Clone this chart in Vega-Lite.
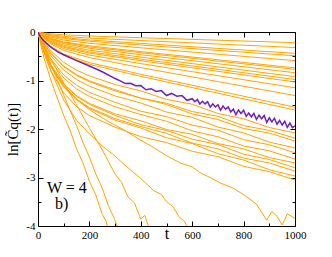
{
  "$schema": "https://vega.github.io/schema/vega-lite/v6.json",
  "autosize": "none",
  "width": 257,
  "height": 194,
  "padding": {"left": 38, "top": 32, "right": 37, "bottom": 31},
  "background": "white",
  "config": {
    "view": {"stroke": null},
    "axis": {"grid": false, "labelFont": "Liberation Serif", "labelFontSize": 11, "labelColor": "black", "titleFont": "Liberation Serif", "titleFontWeight": "normal", "titleColor": "black", "domainColor": "black", "tickColor": "black", "labelFlush": false, "labelOverlap": false}
  },
  "datasets": {
    "up": [
      {"s":"u1","t":0,"v":0},{"s":"u1","t":10,"v":-0.009},{"s":"u1","t":25,"v":-0.021},{"s":"u1","t":50,"v":-0.037},{"s":"u1","t":100,"v":-0.058},{"s":"u1","t":200,"v":-0.082},{"s":"u1","t":400,"v":-0.118},{"s":"u1","t":700,"v":-0.169},{"s":"u1","t":1000,"v":-0.22},
      {"s":"u2","t":0,"v":0},{"s":"u2","t":10,"v":-0.015},{"s":"u2","t":25,"v":-0.033},{"s":"u2","t":50,"v":-0.057},{"s":"u2","t":100,"v":-0.089},{"s":"u2","t":200,"v":-0.125},{"s":"u2","t":400,"v":-0.176},{"s":"u2","t":700,"v":-0.248},{"s":"u2","t":1000,"v":-0.32},
      {"s":"u3","t":0,"v":0},{"s":"u3","t":10,"v":-0.019},{"s":"u3","t":25,"v":-0.043},{"s":"u3","t":50,"v":-0.074},{"s":"u3","t":100,"v":-0.115},{"s":"u3","t":200,"v":-0.164},{"s":"u3","t":400,"v":-0.236},{"s":"u3","t":700,"v":-0.338},{"s":"u3","t":1000,"v":-0.44},
      {"s":"u4","t":0,"v":0},{"s":"u4","t":10,"v":-0.022},{"s":"u4","t":25,"v":-0.05},{"s":"u4","t":50,"v":-0.086},{"s":"u4","t":100,"v":-0.134},{"s":"u4","t":200,"v":-0.19},{"s":"u4","t":400,"v":-0.268},{"s":"u4","t":700,"v":-0.379},{"s":"u4","t":1000,"v":-0.49},
      {"s":"u5","t":0,"v":0},{"s":"u5","t":10,"v":-0.028},{"s":"u5","t":25,"v":-0.062},{"s":"u5","t":50,"v":-0.107},{"s":"u5","t":100,"v":-0.166},{"s":"u5","t":200,"v":-0.233},{"s":"u5","t":400,"v":-0.326},{"s":"u5","t":700,"v":-0.458},{"s":"u5","t":1000,"v":-0.59},
      {"s":"u6","t":0,"v":0},{"s":"u6","t":10,"v":-0.033},{"s":"u6","t":25,"v":-0.075},{"s":"u6","t":50,"v":-0.13},{"s":"u6","t":100,"v":-0.202},{"s":"u6","t":200,"v":-0.286},{"s":"u6","t":400,"v":-0.404},{"s":"u6","t":700,"v":-0.572},{"s":"u6","t":1000,"v":-0.74},
      {"s":"u7","t":0,"v":0},{"s":"u7","t":10,"v":-0.037},{"s":"u7","t":25,"v":-0.083},{"s":"u7","t":50,"v":-0.142},{"s":"u7","t":100,"v":-0.219},{"s":"u7","t":200,"v":-0.307},{"s":"u7","t":400,"v":-0.428},{"s":"u7","t":700,"v":-0.599},{"s":"u7","t":1000,"v":-0.77},
      {"s":"u8","t":0,"v":0},{"s":"u8","t":10,"v":-0.04},{"s":"u8","t":25,"v":-0.091},{"s":"u8","t":50,"v":-0.155},{"s":"u8","t":100,"v":-0.24},{"s":"u8","t":200,"v":-0.336},{"s":"u8","t":400,"v":-0.468},{"s":"u8","t":700,"v":-0.654},{"s":"u8","t":1000,"v":-0.84},
      {"s":"u9","t":0,"v":0},{"s":"u9","t":10,"v":-0.045},{"s":"u9","t":25,"v":-0.102},{"s":"u9","t":50,"v":-0.175},{"s":"u9","t":100,"v":-0.27},{"s":"u9","t":200,"v":-0.375},{"s":"u9","t":400,"v":-0.518},{"s":"u9","t":700,"v":-0.719},{"s":"u9","t":1000,"v":-0.92},
      {"s":"u10","t":0,"v":0},{"s":"u10","t":10,"v":-0.05},{"s":"u10","t":25,"v":-0.113},{"s":"u10","t":50,"v":-0.193},{"s":"u10","t":100,"v":-0.297},{"s":"u10","t":200,"v":-0.41},{"s":"u10","t":400,"v":-0.56},{"s":"u10","t":700,"v":-0.77},{"s":"u10","t":1000,"v":-0.98},
      {"s":"u11","t":0,"v":0},{"s":"u11","t":10,"v":-0.054},{"s":"u11","t":25,"v":-0.121},{"s":"u11","t":50,"v":-0.206},{"s":"u11","t":100,"v":-0.316},{"s":"u11","t":200,"v":-0.435},{"s":"u11","t":400,"v":-0.592},{"s":"u11","t":700,"v":-0.811},{"s":"u11","t":1000,"v":-1.03},
      {"s":"u12","t":0,"v":0},{"s":"u12","t":10,"v":-0.058},{"s":"u12","t":25,"v":-0.13},{"s":"u12","t":50,"v":-0.222},{"s":"u12","t":100,"v":-0.343},{"s":"u12","t":200,"v":-0.475},{"s":"u12","t":400,"v":-0.652},{"s":"u12","t":700,"v":-0.901},{"s":"u12","t":1000,"v":-1.15},
      {"s":"u13","t":0,"v":0},{"s":"u13","t":10,"v":-0.064},{"s":"u13","t":25,"v":-0.143},{"s":"u13","t":50,"v":-0.246},{"s":"u13","t":100,"v":-0.38},{"s":"u13","t":200,"v":-0.529},{"s":"u13","t":400,"v":-0.734},{"s":"u13","t":700,"v":-1.022},{"s":"u13","t":1000,"v":-1.31},
      {"s":"u14","t":0,"v":0},{"s":"u14","t":10,"v":-0.076},{"s":"u14","t":25,"v":-0.172},{"s":"u14","t":50,"v":-0.294},{"s":"u14","t":100,"v":-0.454},{"s":"u14","t":200,"v":-0.631},{"s":"u14","t":400,"v":-0.872},{"s":"u14","t":700,"v":-1.211},{"s":"u14","t":1000,"v":-1.55},
      {"s":"u15","t":0,"v":0},{"s":"u15","t":10,"v":-0.081},{"s":"u15","t":25,"v":-0.183},{"s":"u15","t":50,"v":-0.312},{"s":"u15","t":100,"v":-0.481},{"s":"u15","t":200,"v":-0.666},{"s":"u15","t":400,"v":-0.914},{"s":"u15","t":700,"v":-1.262},{"s":"u15","t":1000,"v":-1.61}
    ],
    "cl": [
      {"s":"c1","t":0,"v":0},{"s":"c1","t":10,"v":-0.094},{"s":"c1","t":25,"v":-0.217},{"s":"c1","t":50,"v":-0.386},{"s":"c1","t":100,"v":-0.625},{"s":"c1","t":150,"v":-0.786},{"s":"c1","t":200,"v":-0.904},{"s":"c1","t":300,"v":-1.084},{"s":"c1","t":400,"v":-1.215},{"s":"c1","t":500,"v":-1.39},{"s":"c1","t":600,"v":-1.49},{"s":"c1","t":700,"v":-1.68},{"s":"c1","t":800,"v":-1.79},{"s":"c1","t":900,"v":-1.97},{"s":"c1","t":1000,"v":-2.08},
      {"s":"c2","t":0,"v":0},{"s":"c2","t":10,"v":-0.107},{"s":"c2","t":25,"v":-0.247},{"s":"c2","t":50,"v":-0.437},{"s":"c2","t":100,"v":-0.703},{"s":"c2","t":150,"v":-0.879},{"s":"c2","t":200,"v":-1.005},{"s":"c2","t":300,"v":-1.191},{"s":"c2","t":400,"v":-1.364},{"s":"c2","t":500,"v":-1.47},{"s":"c2","t":600,"v":-1.64},{"s":"c2","t":700,"v":-1.74},{"s":"c2","t":800,"v":-1.93},{"s":"c2","t":900,"v":-2.03},{"s":"c2","t":1000,"v":-2.19},
      {"s":"c3","t":0,"v":0},{"s":"c3","t":10,"v":-0.109},{"s":"c3","t":25,"v":-0.25},{"s":"c3","t":50,"v":-0.445},{"s":"c3","t":100,"v":-0.715},{"s":"c3","t":150,"v":-0.896},{"s":"c3","t":200,"v":-1.024},{"s":"c3","t":300,"v":-1.216},{"s":"c3","t":400,"v":-1.364},{"s":"c3","t":500,"v":-1.495},{"s":"c3","t":600,"v":-1.69},{"s":"c3","t":700,"v":-1.805},{"s":"c3","t":800,"v":-1.99},{"s":"c3","t":900,"v":-2.085},{"s":"c3","t":1000,"v":-2.25},
      {"s":"c4","t":0,"v":0},{"s":"c4","t":10,"v":-0.12},{"s":"c4","t":25,"v":-0.276},{"s":"c4","t":50,"v":-0.489},{"s":"c4","t":100,"v":-0.785},{"s":"c4","t":150,"v":-0.979},{"s":"c4","t":200,"v":-1.117},{"s":"c4","t":300,"v":-1.319},{"s":"c4","t":400,"v":-1.464},{"s":"c4","t":500,"v":-1.65},{"s":"c4","t":600,"v":-1.76},{"s":"c4","t":700,"v":-1.96},{"s":"c4","t":800,"v":-2.08},{"s":"c4","t":900,"v":-2.27},{"s":"c4","t":1000,"v":-2.39},
      {"s":"c5","t":0,"v":0},{"s":"c5","t":10,"v":-0.137},{"s":"c5","t":25,"v":-0.315},{"s":"c5","t":50,"v":-0.556},{"s":"c5","t":100,"v":-0.887},{"s":"c5","t":150,"v":-1.098},{"s":"c5","t":200,"v":-1.245},{"s":"c5","t":300,"v":-1.45},{"s":"c5","t":400,"v":-1.633},{"s":"c5","t":500,"v":-1.745},{"s":"c5","t":600,"v":-1.92},{"s":"c5","t":700,"v":-2.025},{"s":"c5","t":800,"v":-2.22},{"s":"c5","t":900,"v":-2.325},{"s":"c5","t":1000,"v":-2.49},
      {"s":"c6","t":0,"v":0},{"s":"c6","t":10,"v":-0.147},{"s":"c6","t":25,"v":-0.338},{"s":"c6","t":50,"v":-0.596},{"s":"c6","t":100,"v":-0.949},{"s":"c6","t":150,"v":-1.174},{"s":"c6","t":200,"v":-1.328},{"s":"c6","t":300,"v":-1.543},{"s":"c6","t":400,"v":-1.702},{"s":"c6","t":500,"v":-1.84},{"s":"c6","t":600,"v":-2.04},{"s":"c6","t":700,"v":-2.16},{"s":"c6","t":800,"v":-2.35},{"s":"c6","t":900,"v":-2.45},{"s":"c6","t":1000,"v":-2.62},
      {"s":"c7","t":0,"v":0},{"s":"c7","t":10,"v":-0.167},{"s":"c7","t":25,"v":-0.383},{"s":"c7","t":50,"v":-0.675},{"s":"c7","t":100,"v":-1.067},{"s":"c7","t":150,"v":-1.311},{"s":"c7","t":200,"v":-1.473},{"s":"c7","t":300,"v":-1.689},{"s":"c7","t":400,"v":-1.831},{"s":"c7","t":500,"v":-2.01},{"s":"c7","t":600,"v":-2.11},{"s":"c7","t":700,"v":-2.3},{"s":"c7","t":800,"v":-2.41},{"s":"c7","t":900,"v":-2.59},{"s":"c7","t":1000,"v":-2.7},
      {"s":"c8","t":0,"v":0},{"s":"c8","t":10,"v":-0.168},{"s":"c8","t":25,"v":-0.386},{"s":"c8","t":50,"v":-0.68},{"s":"c8","t":100,"v":-1.077},{"s":"c8","t":150,"v":-1.326},{"s":"c8","t":200,"v":-1.493},{"s":"c8","t":300,"v":-1.719},{"s":"c8","t":400,"v":-1.911},{"s":"c8","t":500,"v":-2.03},{"s":"c8","t":600,"v":-2.21},{"s":"c8","t":700,"v":-2.32},{"s":"c8","t":800,"v":-2.52},{"s":"c8","t":900,"v":-2.63},{"s":"c8","t":1000,"v":-2.8},
      {"s":"c9","t":0,"v":0},{"s":"c9","t":10,"v":-0.176},{"s":"c9","t":25,"v":-0.405},{"s":"c9","t":50,"v":-0.712},{"s":"c9","t":100,"v":-1.127},{"s":"c9","t":150,"v":-1.385},{"s":"c9","t":200,"v":-1.558},{"s":"c9","t":300,"v":-1.787},{"s":"c9","t":400,"v":-1.95},{"s":"c9","t":500,"v":-2.09},{"s":"c9","t":600,"v":-2.29},{"s":"c9","t":700,"v":-2.41},{"s":"c9","t":800,"v":-2.6},{"s":"c9","t":900,"v":-2.7},{"s":"c9","t":1000,"v":-2.87},
      {"s":"c10","t":0,"v":0},{"s":"c10","t":10,"v":-0.177},{"s":"c10","t":25,"v":-0.407},{"s":"c10","t":50,"v":-0.717},{"s":"c10","t":100,"v":-1.137},{"s":"c10","t":150,"v":-1.4},{"s":"c10","t":200,"v":-1.578},{"s":"c10","t":300,"v":-1.817},{"s":"c10","t":400,"v":-1.98},{"s":"c10","t":500,"v":-2.18},{"s":"c10","t":600,"v":-2.3},{"s":"c10","t":700,"v":-2.51},{"s":"c10","t":800,"v":-2.64},{"s":"c10","t":900,"v":-2.84},{"s":"c10","t":1000,"v":-2.97},
      {"s":"c11","t":0,"v":0},{"s":"c11","t":10,"v":-0.197},{"s":"c11","t":25,"v":-0.453},{"s":"c11","t":50,"v":-0.796},{"s":"c11","t":100,"v":-1.255},{"s":"c11","t":150,"v":-1.538},{"s":"c11","t":200,"v":-1.723},{"s":"c11","t":300,"v":-1.963},{"s":"c11","t":400,"v":-2.159},{"s":"c11","t":500,"v":-2.28},{"s":"c11","t":600,"v":-2.46},{"s":"c11","t":700,"v":-2.57},{"s":"c11","t":800,"v":-2.77},{"s":"c11","t":900,"v":-2.88},{"s":"c11","t":1000,"v":-3.05}
    ],
    "lo": [
      {"s":"L1","t":0,"v":0},{"s":"L1","t":10,"v":-0.25},{"s":"L1","t":25,"v":-0.56},{"s":"L1","t":50,"v":-0.99},{"s":"L1","t":75,"v":-1.36},{"s":"L1","t":100,"v":-1.72},{"s":"L1","t":125,"v":-2.03},{"s":"L1","t":150,"v":-2.41},{"s":"L1","t":175,"v":-2.7},{"s":"L1","t":200,"v":-3.08},{"s":"L1","t":225,"v":-3.36},{"s":"L1","t":250,"v":-3.76},{"s":"L1","t":265,"v":-3.9},{"s":"L1","t":280,"v":-4.25},
      {"s":"L2","t":0,"v":0},{"s":"L2","t":25,"v":-0.33},{"s":"L2","t":50,"v":-0.66},{"s":"L2","t":75,"v":-0.98},{"s":"L2","t":100,"v":-1.3},{"s":"L2","t":125,"v":-1.62},{"s":"L2","t":150,"v":-1.93},{"s":"L2","t":175,"v":-2.28},{"s":"L2","t":200,"v":-2.58},{"s":"L2","t":225,"v":-2.93},{"s":"L2","t":250,"v":-3.22},{"s":"L2","t":275,"v":-3.6},{"s":"L2","t":300,"v":-3.88},{"s":"L2","t":320,"v":-4.2},
      {"s":"L3","t":0,"v":0},{"s":"L3","t":25,"v":-0.3},{"s":"L3","t":50,"v":-0.55},{"s":"L3","t":100,"v":-1.05},{"s":"L3","t":150,"v":-1.5},{"s":"L3","t":200,"v":-1.98},{"s":"L3","t":250,"v":-2.43},{"s":"L3","t":300,"v":-2.93},{"s":"L3","t":325,"v":-3.1},{"s":"L3","t":350,"v":-3.4},{"s":"L3","t":375,"v":-3.52},{"s":"L3","t":400,"v":-3.86},{"s":"L3","t":415,"v":-3.78},{"s":"L3","t":440,"v":-4.15},
      {"s":"L4","t":0,"v":0},{"s":"L4","t":10,"v":-0.2},{"s":"L4","t":25,"v":-0.45},{"s":"L4","t":50,"v":-0.8},{"s":"L4","t":100,"v":-1.4},{"s":"L4","t":150,"v":-1.82},{"s":"L4","t":200,"v":-2.1},{"s":"L4","t":250,"v":-2.35},{"s":"L4","t":300,"v":-2.56},{"s":"L4","t":350,"v":-2.8},{"s":"L4","t":400,"v":-3.02},{"s":"L4","t":450,"v":-3.27},{"s":"L4","t":480,"v":-3.35},{"s":"L4","t":500,"v":-3.5},{"s":"L4","t":525,"v":-3.6},{"s":"L4","t":550,"v":-3.82},{"s":"L4","t":570,"v":-3.9},{"s":"L4","t":590,"v":-4.15},
      {"s":"L5","t":0,"v":0},{"s":"L5","t":25,"v":-0.4},{"s":"L5","t":50,"v":-0.7},{"s":"L5","t":100,"v":-1.1},{"s":"L5","t":150,"v":-1.38},{"s":"L5","t":200,"v":-1.6},{"s":"L5","t":250,"v":-1.77},{"s":"L5","t":300,"v":-1.92},{"s":"L5","t":335,"v":-2.02},{"s":"L5","t":390,"v":-2.2},{"s":"L5","t":440,"v":-2.35},{"s":"L5","t":500,"v":-2.55},{"s":"L5","t":553,"v":-2.7},{"s":"L5","t":600,"v":-2.78},{"s":"L5","t":630,"v":-2.9},{"s":"L5","t":670,"v":-3.0},{"s":"L5","t":708,"v":-3.11},{"s":"L5","t":760,"v":-3.22},{"s":"L5","t":813,"v":-3.4},{"s":"L5","t":850,"v":-3.55},{"s":"L5","t":890,"v":-3.88},{"s":"L5","t":910,"v":-3.7},{"s":"L5","t":930,"v":-3.8},{"s":"L5","t":950,"v":-3.98},{"s":"L5","t":970,"v":-3.75},{"s":"L5","t":1000,"v":-3.84}
    ],
    "pu": [
      {"t":0,"v":0},{"t":5,"v":-0.06},{"t":10,"v":-0.1},{"t":20,"v":-0.17},{"t":30,"v":-0.22},{"t":45,"v":-0.29},{"t":60,"v":-0.35},{"t":80,"v":-0.42},{"t":100,"v":-0.47},{"t":117,"v":-0.51},{"t":150,"v":-0.59},{"t":200,"v":-0.7},{"t":250,"v":-0.82},{"t":300,"v":-0.96},
      {"t":320,"v":-1.007},{"t":340,"v":-1.064},{"t":360,"v":-1.056},{"t":380,"v":-1.108},{"t":400,"v":-1.105},{"t":420,"v":-1.192},{"t":440,"v":-1.169},{"t":460,"v":-1.226},{"t":480,"v":-1.208},{"t":500,"v":-1.31},{"t":520,"v":-1.267},{"t":540,"v":-1.324},{"t":560,"v":-1.311},{"t":580,"v":-1.408},{"t":600,"v":-1.375},
      {"t":610,"v":-1.439},{"t":620,"v":-1.392},{"t":630,"v":-1.486},{"t":640,"v":-1.429},{"t":650,"v":-1.483},{"t":660,"v":-1.436},{"t":670,"v":-1.55},{"t":680,"v":-1.483},{"t":690,"v":-1.547},{"t":700,"v":-1.5},
      {"t":710,"v":-1.614},{"t":720,"v":-1.527},{"t":730,"v":-1.591},{"t":740,"v":-1.544},{"t":750,"v":-1.648},{"t":760,"v":-1.591},{"t":770,"v":-1.705},{"t":780,"v":-1.608},{"t":790,"v":-1.682},{"t":800,"v":-1.615},
      {"t":810,"v":-1.739},{"t":820,"v":-1.672},{"t":830,"v":-1.746},{"t":840,"v":-1.679},{"t":850,"v":-1.803},{"t":860,"v":-1.716},{"t":870,"v":-1.79},{"t":880,"v":-1.723},{"t":890,"v":-1.867},{"t":900,"v":-1.77},
      {"t":910,"v":-1.854},{"t":920,"v":-1.777},{"t":930,"v":-1.901},{"t":940,"v":-1.824},{"t":950,"v":-1.918},{"t":960,"v":-1.841},{"t":970,"v":-1.965},{"t":980,"v":-1.878},{"t":990,"v":-1.972},{"t":1000,"v":-1.935}
    ],
    "tx": [
      {"t":35,"v":-3.32,"label":"W = 4"},
      {"t":66,"v":-3.65,"label":"b)"}
    ]
  },
  "resolve": {"axis": {"x": "independent", "y": "independent"}},
  "layer": [
    {
      "data": {"name": "up"},
      "mark": {"type": "line", "color": "#FFA500", "strokeWidth": 1, "clip": true},
      "encoding": {
        "x": {"field": "t", "type": "quantitative", "scale": {"domain": [0, 1000], "nice": false},
              "axis": {"orient": "bottom", "values": [0, 200, 400, 600, 800, 1000], "ticks": false, "domain": true, "labelPadding": 3, "labelExpr": "'' + datum.value", "title": "t", "titleFontSize": 16, "titleY": 12, "titleBaseline": "alphabetic"}},
        "y": {"field": "v", "type": "quantitative", "scale": {"domain": [-4, 0], "nice": false},
              "axis": {"orient": "left", "values": [0, -1, -2, -3, -4], "ticks": false, "domain": true, "labelPadding": 3, "labelExpr": "'' + datum.value", "title": "ln[C\u0303q(t)]", "titleFontSize": 15, "titlePadding": 5}},
        "detail": {"field": "s"}
      }
    },
    {
      "data": {"name": "cl"},
      "mark": {"type": "line", "color": "#FFA500", "strokeWidth": 1, "clip": true},
      "encoding": {
        "x": {"field": "t", "type": "quantitative", "scale": {"domain": [0, 1000], "nice": false},
              "axis": {"orient": "bottom", "values": [0, 200, 400, 600, 800, 1000], "tickSize": -5, "labels": false, "domain": false, "title": null}},
        "y": {"field": "v", "type": "quantitative", "scale": {"domain": [-4, 0], "nice": false},
              "axis": {"orient": "left", "values": [0, -1, -2, -3, -4], "tickSize": -5, "labels": false, "domain": false, "title": null}},
        "detail": {"field": "s"}
      }
    },
    {
      "data": {"name": "lo"},
      "mark": {"type": "line", "color": "#FFA500", "strokeWidth": 1, "clip": true},
      "encoding": {
        "x": {"field": "t", "type": "quantitative", "scale": {"domain": [0, 1000], "nice": false},
              "axis": {"orient": "bottom", "values": [100, 300, 500, 700, 900], "tickSize": -3, "labels": false, "domain": false, "title": null}},
        "y": {"field": "v", "type": "quantitative", "scale": {"domain": [-4, 0], "nice": false},
              "axis": {"orient": "left", "values": [-0.5, -1.5, -2.5, -3.5], "tickSize": -3, "labels": false, "domain": false, "title": null}},
        "detail": {"field": "s"}
      }
    },
    {
      "data": {"name": "pu"},
      "mark": {"type": "line", "color": "#7221BC", "strokeWidth": 1.5, "clip": true},
      "encoding": {
        "x": {"field": "t", "type": "quantitative", "scale": {"domain": [0, 1000], "nice": false},
              "axis": {"orient": "top", "values": [0, 200, 400, 600, 800, 1000], "tickSize": -5, "labels": false, "domain": true, "title": null}},
        "y": {"field": "v", "type": "quantitative", "scale": {"domain": [-4, 0], "nice": false},
              "axis": {"orient": "right", "values": [0, -1, -2, -3, -4], "tickSize": -5, "labels": false, "domain": true, "title": null}}
      }
    },
    {
      "data": {"name": "tx"},
      "mark": {"type": "text", "font": "Liberation Serif", "fontSize": 16, "align": "left", "baseline": "alphabetic", "color": "black"},
      "encoding": {
        "x": {"field": "t", "type": "quantitative", "scale": {"domain": [0, 1000], "nice": false},
              "axis": {"orient": "top", "values": [100, 300, 500, 700, 900], "tickSize": -3, "labels": false, "domain": false, "title": null}},
        "y": {"field": "v", "type": "quantitative", "scale": {"domain": [-4, 0], "nice": false},
              "axis": {"orient": "right", "values": [-0.5, -1.5, -2.5, -3.5], "tickSize": -3, "labels": false, "domain": false, "title": null}},
        "text": {"field": "label"}
      }
    }
  ]
}
